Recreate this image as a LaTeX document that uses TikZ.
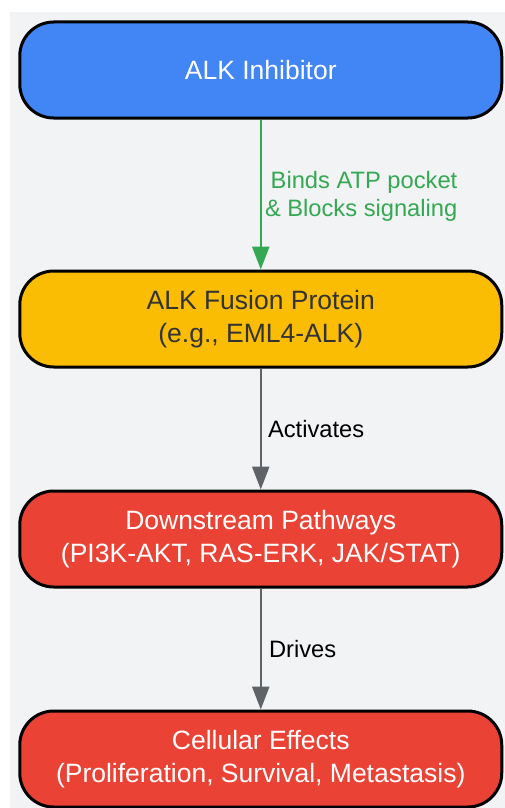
\documentclass[tikz,border=0pt]{standalone}
\usepackage{fontspec}
\setmainfont{Liberation Sans}
\usetikzlibrary{arrows.meta}

\definecolor{panelgray}{HTML}{F1F3F4}
\definecolor{inhblue}{HTML}{4285F4}
\definecolor{fusyellow}{HTML}{FBBC04}
\definecolor{pathred}{HTML}{EA4335}
\definecolor{bindgreen}{HTML}{34A853}
\definecolor{linkgray}{HTML}{5F6368}
\definecolor{darktext}{HTML}{333333}

\tikzset{
	stagebox/.style = {draw=black, line width=3pt, rounded corners=34pt,
		minimum width=482pt, minimum height=96pt, align=center,
		font=\fontsize{26.5}{33}\selectfont},
	flow/.style = {line width=2.5pt, -{Triangle[length=23pt,width=17pt]}},
	flowlabel/.style = {inner sep=0pt, align=right,
		font=\fontsize{23.7}{28}\selectfont}
}

\begin{document}
\begin{tikzpicture}[x=1pt, y=-1pt]
	\useasboundingbox (0,0) rectangle (505,808);
	\fill[white] (0,0) rectangle (505,808);
	\fill[panelgray] (10,12) rectangle (505,808);
	
	\node[stagebox, fill=inhblue, text=white] (inh) at (260.75,70) {ALK Inhibitor};
	\node[stagebox, fill=fusyellow, text=darktext] (fus) at (260.75,319) {ALK Fusion Protein\\(e.g., EML4-ALK)};
	\node[stagebox, fill=pathred, text=white] (path) at (260.75,539) {Downstream Pathways\\(PI3K-AKT, RAS-ERK, JAK/STAT)};
	\node[stagebox, fill=pathred, text=white] (cell) at (260.75,759) {Cellular Effects\\(Proliferation, Survival, Metastasis)};
	
	\draw[flow, bindgreen] (inh) -- node[flowlabel, text=bindgreen, right=3pt, yshift=-1.5pt] (bindlbl) {Binds ATP pocket\\\& Blocks signaling} (fus);
	\draw[flow, linkgray] (fus) -- node[flowlabel, text=black, right=6pt] (actlbl) {Activates} (path);
	\draw[flow, linkgray] (path) -- node[flowlabel, text=black, right=7pt] (drvlbl) {Drives} (cell);
\end{tikzpicture}
\end{document}
